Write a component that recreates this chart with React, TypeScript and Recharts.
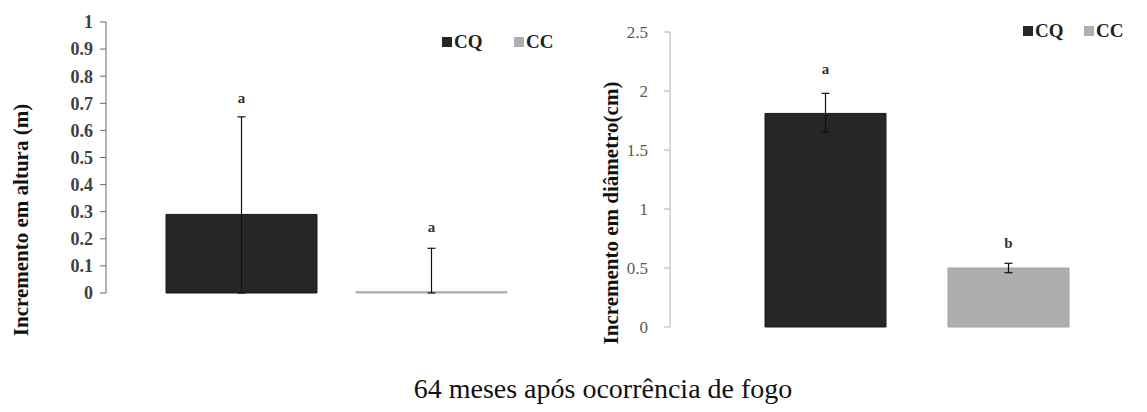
import React from 'react'
import { BarChart, Bar, XAxis, YAxis, ErrorBar, LabelList, Legend } from 'recharts'

// one group, two treatments (CQ / CC)
const groups = ['64 meses']
const series = ['CQ', 'CC']
const colors = { CQ: '#262626', CC: '#aeaeae' }

// height increment (m)
const alturaCQ = [0.29]
const alturaCC = [0.005]
const alturaErrCQ = [[0.29, 0.36]]
const alturaErrCC = [[0.005, 0.16]]
const alturaLetterCQ = ['a']
const alturaLetterCC = ['a']
const alturaTicks = [0, 0.1, 0.2, 0.3, 0.4, 0.5, 0.6, 0.7, 0.8, 0.9, 1]

// diameter increment (cm)
const diamCQ = [1.81]
const diamCC = [0.5]
const diamErrCQ = [[0.16, 0.17]]
const diamErrCC = [[0.04, 0.04]]
const diamLetterCQ = ['a']
const diamLetterCC = ['b']
const diamTicks = [0, 0.5, 1, 1.5, 2, 2.5]

const alturaData = groups.map((g, i) => ({
  group: g, CQ: alturaCQ[i], CC: alturaCC[i],
  errCQ: alturaErrCQ[i], errCC: alturaErrCC[i],
  letCQ: alturaLetterCQ[i], letCC: alturaLetterCC[i],
}))
const diamData = groups.map((g, i) => ({
  group: g, CQ: diamCQ[i], CC: diamCC[i],
  errCQ: diamErrCQ[i], errCC: diamErrCC[i],
  letCQ: diamLetterCQ[i], letCC: diamLetterCC[i],
}))

const serif = '"Liberation Serif", "Times New Roman", serif'

// letter drawn above the top of the error bar
function letter(errs: number[][], pxPerUnit: number, gap: number) {
  return (props: any) => {
    const { x, y, width, value, index } = props
    const e = errs[index ?? 0]
    const top = Number(y) - e[1] * pxPerUnit - gap
    return (
      <text x={Number(x) + Number(width) / 2} y={top} textAnchor="middle"
        fontFamily={serif} fontWeight="bold" fontSize={15} fill="#333">{value}</text>
    )
  }
}

function legendBox(spacing: number, fontSize: number) {
  return (props: any) => {
    const items = [...(props.payload || [])].sort((a: any, b: any) => series.indexOf(a.value) - series.indexOf(b.value))
    return (
      <div style={{ display: 'flex', fontFamily: serif, fontWeight: 'bold', fontSize, color: '#222', lineHeight: 1 }}>
        {items.map((p: any) => (
          <div key={p.value} style={{ display: 'flex', alignItems: 'center', width: spacing }}>
            <span style={{ width: 10, height: 10, background: p.color, marginRight: 2, display: 'inline-block' }} />
            <span>{p.value}</span>
          </div>
        ))}
      </div>
    )
  }
}

function YTitle({ text, x, y }: { text: string, x: number, y: number }) {
  return (
    <div style={{
      position: 'absolute', left: x, top: y, transform: 'translate(-50%, -50%) rotate(-90deg)',
      whiteSpace: 'nowrap', fontFamily: serif, fontWeight: 'bold', fontSize: 21, lineHeight: 1, color: '#111',
    }}>{text}</div>
  )
}

export default function App() {
  return (
    <div style={{ position: 'absolute', left: 0, top: 0, width: 1147, height: 412, overflow: 'hidden', background: '#fff' }}>
      {/* left: altura */}
      <div style={{ position: 'absolute', left: 0, top: 0 }}>
        <BarChart width={590} height={320} data={alturaData} barSize={151} barGap={39}
          margin={{ top: 22, right: 24, left: 0, bottom: 27 }}>
          <XAxis dataKey="group" tick={false} tickLine={false} height={0} stroke="#999" />
          <YAxis width={106} domain={[0, 1]} ticks={alturaTicks} interval={0} stroke="#666" tickSize={6} tickMargin={7}
            tick={{ fill: '#404040', fontSize: 18, fontFamily: serif, fontWeight: 'bold' }} />
          <Legend layout="horizontal" verticalAlign="middle" align="center" content={legendBox(72, 19)}
            wrapperStyle={{ position: 'absolute', top: 32, left: 442, width: 160, height: 20 }} />
          {series.map(s => (
            <Bar key={s} dataKey={s} name={s} fill={colors[s as 'CQ']} stroke={s === 'CQ' ? '#1a1a1a' : colors.CC}
              isAnimationActive={false}>
              <ErrorBar dataKey={'err' + s} width={4} stroke="#111" strokeWidth={1.2} direction="y" />
              <LabelList dataKey={'let' + s}
                content={letter(s === 'CQ' ? alturaErrCQ : alturaErrCC, 271, s === 'CQ' ? 14 : 16)} />
            </Bar>
          ))}
        </BarChart>
      </div>

      {/* right: diametro */}
      <div style={{ position: 'absolute', left: 560, top: 0 }}>
        <BarChart width={603} height={340} data={diamData} barSize={121} barGap={62}
          margin={{ top: 32, right: 0, left: 0, bottom: 13 }}>
          <XAxis dataKey="group" tick={false} tickLine={false} height={0} stroke="#b0b0b0" />
          <YAxis width={110} domain={[0, 2.5]} ticks={diamTicks} interval={0} stroke="#b0b0b0" tickSize={6} tickMargin={16}
            tick={{ fill: '#595959', fontSize: 17, fontFamily: serif }} />
          <Legend layout="horizontal" verticalAlign="middle" align="center" content={legendBox(61, 19)}
            wrapperStyle={{ position: 'absolute', top: 21, left: 463, width: 140, height: 20 }} />
          {series.map(s => (
            <Bar key={s} dataKey={s} name={s} fill={colors[s as 'CQ']} stroke={s === 'CQ' ? '#1a1a1a' : '#a0a0a0'}
              isAnimationActive={false}>
              <ErrorBar dataKey={'err' + s} width={4} stroke="#111" strokeWidth={1.2} direction="y" />
              <LabelList dataKey={'let' + s}
                content={letter(s === 'CQ' ? diamErrCQ : diamErrCC, 118, s === 'CQ' ? 19 : 15)} />
            </Bar>
          ))}
        </BarChart>
      </div>

      <YTitle text="Incremento em altura (m)" x={21} y={220} />
      <YTitle text="Incremento em diâmetro(cm)" x={611} y={213} />

      <div style={{
        position: 'absolute', left: 603, top: 375, transform: 'translateX(-50%)', whiteSpace: 'nowrap',
        fontFamily: serif, fontSize: 28, lineHeight: 1, color: '#111',
      }}>64 meses após ocorrência de fogo</div>
    </div>
  )
}
